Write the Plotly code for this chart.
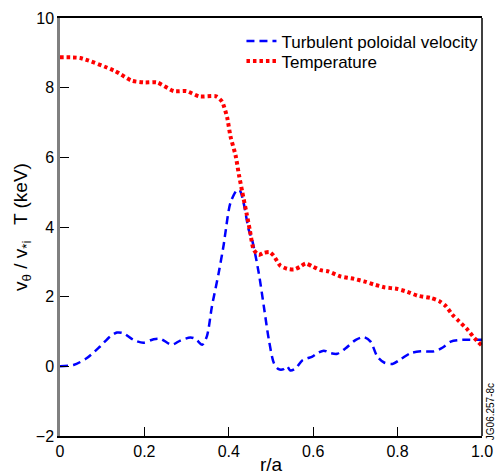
import plotly.graph_objects as go

# turbulent poloidal velocity (v_theta / v_*i)
r_vel = [0.0, 0.032, 0.063, 0.095, 0.119, 0.135, 0.15, 0.174, 0.198, 0.222, 0.238,
         0.265, 0.285, 0.309, 0.321, 0.337, 0.348, 0.36, 0.376, 0.388, 0.392, 0.404,
         0.42, 0.426, 0.435, 0.447, 0.455, 0.471, 0.483, 0.495, 0.507, 0.518, 0.53,
         0.538, 0.546, 0.558, 0.574, 0.586, 0.598, 0.61, 0.625, 0.641, 0.657, 0.677,
         0.701, 0.72, 0.736, 0.752, 0.768, 0.788, 0.808, 0.831, 0.855, 0.887, 0.907,
         0.926, 0.954, 0.982, 1.0]
vel = [0.0, 0.04, 0.23, 0.57, 0.86, 0.97, 0.95, 0.76, 0.68, 0.78, 0.79,
       0.62, 0.74, 0.83, 0.79, 0.62, 0.86, 1.72, 2.68, 3.5, 3.84, 4.7,
       5.07, 5.05, 4.7, 3.93, 3.64, 2.68, 1.72, 0.76, 0.09, -0.08, -0.08,
       0.0, -0.12, -0.06, 0.17, 0.23, 0.28, 0.38, 0.45, 0.38, 0.36, 0.52,
       0.76, 0.84, 0.71, 0.28, 0.11, 0.07, 0.21, 0.38, 0.43, 0.43, 0.54,
       0.71, 0.76, 0.76, 0.76]

# temperature (keV)
r_temp = [0.0, 0.048, 0.13, 0.17, 0.2, 0.23, 0.27, 0.3, 0.33, 0.37, 0.384, 0.396,
          0.404, 0.416, 0.424, 0.432, 0.442, 0.45, 0.459, 0.471, 0.483, 0.497,
          0.506, 0.522, 0.538, 0.554, 0.568, 0.582, 0.598, 0.618, 0.637, 0.665,
          0.697, 0.72, 0.744, 0.768, 0.8, 0.823, 0.847, 0.879, 0.899, 0.915,
          0.93, 0.946, 0.966, 0.982, 1.0]
temp = [8.87, 8.85, 8.48, 8.2, 8.15, 8.15, 7.9, 7.9, 7.75, 7.75, 7.6, 7.15,
        6.6, 6.06, 5.5, 5.0, 4.4, 3.9, 3.35, 3.2, 3.26, 3.28,
        3.18, 2.89, 2.8, 2.78, 2.85, 2.95, 2.87, 2.76, 2.72, 2.58,
        2.51, 2.44, 2.35, 2.27, 2.22, 2.14, 2.03, 1.96, 1.87, 1.72,
        1.48, 1.29, 1.05, 0.81, 0.59]

x_ticks = [0, 0.2, 0.4, 0.6, 0.8, 1.0]
x_ticklabels = ["0", "0.2", "0.4", "0.6", "0.8", "1.0"]
y_ticks = [-2, 0, 2, 4, 6, 8, 10]

font_family = "Liberation Sans, Arial, sans-serif"

fig = go.Figure()
fig.add_trace(go.Scatter(
    x=r_vel, y=vel, mode="lines", name="Turbulent poloidal velocity",
    line=dict(color="#0000ff", width=2.5, dash="8px,5px", shape="spline", smoothing=0.8),
    legend="legend",
))
fig.add_trace(go.Scatter(
    x=r_temp, y=temp, mode="lines", name="Temperature",
    line=dict(color="#ff0000", width=4, dash="3.5px,3px", shape="spline", smoothing=0.6),
    legend="legend2",
))

legend_style = dict(xanchor="left", yanchor="middle", bgcolor="rgba(0,0,0,0)",
                    font=dict(size=17), itemwidth=30)

fig.update_layout(
    width=496, height=475,
    margin=dict(l=60, r=14, t=18, b=39),
    plot_bgcolor="white", paper_bgcolor="white",
    font=dict(family=font_family, size=16, color="black"),
    showlegend=True,
    legend=dict(x=0.43, y=0.944, **legend_style),
    legend2=dict(x=0.43, y=0.896, **legend_style),
)
fig.update_xaxes(
    range=[0, 1], tickvals=x_ticks, ticktext=x_ticklabels,
    ticks="inside", ticklen=9, tickcolor="black", tickwidth=1,
    showline=True, linecolor="black", linewidth=1.5, mirror=True,
    showgrid=False, zeroline=False, automargin=False,
    title=dict(text="r/a", standoff=3),
)
fig.update_yaxes(
    range=[-2, 10], tickvals=y_ticks,
    ticks="inside", ticklen=9, tickcolor="black", tickwidth=1,
    showline=True, linecolor="gray", linewidth=2.5,
    showgrid=False, zeroline=False, automargin=False,
    title=dict(text="v<sub>θ</sub> / v<sub>*i</sub>   T (keV)", standoff=4),
)
# right frame edge
fig.add_shape(type="line", xref="paper", yref="paper", x0=1, x1=1, y0=0, y1=1,
              line=dict(color="black", width=1.5))
fig.add_annotation(
    text="JG06.257-8c", xref="paper", yref="paper", x=1.019, y=0.057,
    xanchor="center", yanchor="middle", textangle=-90, showarrow=False,
    font=dict(size=10, color="black"),
)

# drop the default page margin so the figure fills the window exactly
fig.write_html("out.html", config={"displayModeBar": False},
               post_script="document.body.style.margin = '0';")
